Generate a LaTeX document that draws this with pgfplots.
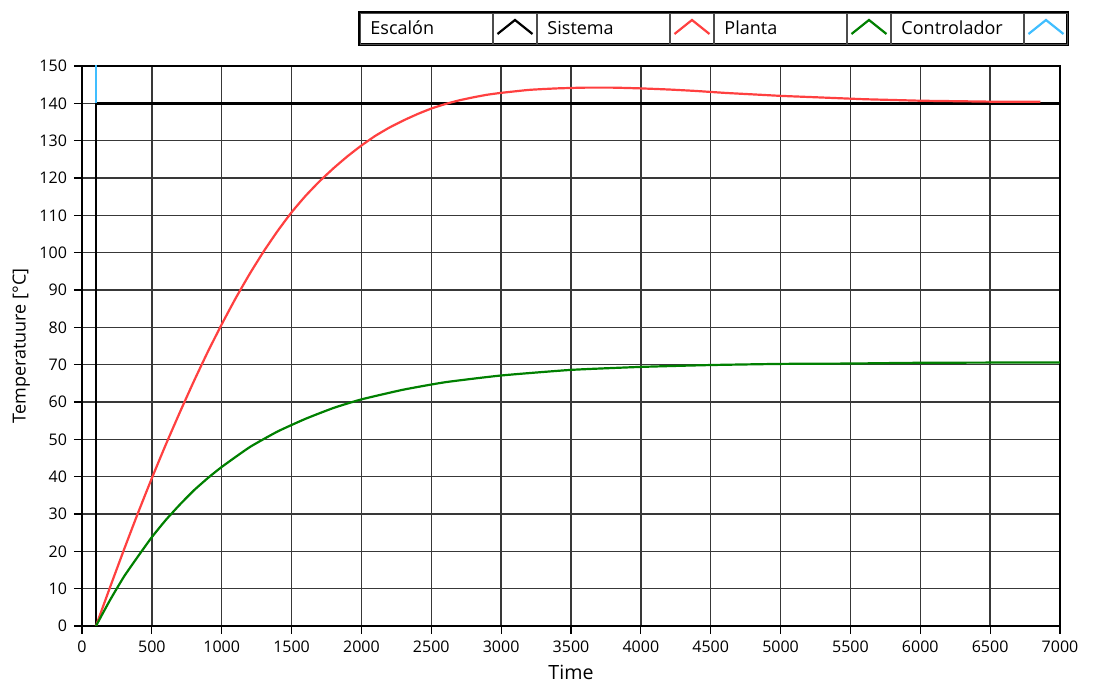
\documentclass[border=0pt]{standalone}
\usepackage{pgfplots}
\pgfplotsset{compat=1.18}
\usepackage{fontspec}
\setmainfont{Open Sans}
\definecolor{cred}{RGB}{255,64,64}
\definecolor{cgreen}{RGB}{0,128,0}
\definecolor{ccyan}{RGB}{64,190,255}
\begin{document}
\begin{tikzpicture}
\begin{axis}[
  at={(0,0)}, anchor=south west,
  scale only axis, width=489pt, height=280pt,
  xmin=0, xmax=7000, ymin=0, ymax=150,
  xtick={0,500,...,7000}, ytick={0,10,...,150},
  /pgf/number format/1000 sep={},
  /pgf/number format/assume math mode=true,
  ticklabel style={font=\fontsize{8}{9}\selectfont},
  grid=major, major grid style={black!78, line width=0.7pt},
  axis line style={black, line width=0.7pt},
  tick style={black, line width=0.6pt},
  tick align=outside, major tick length=4pt,
  xtick pos=bottom, ytick pos=left,
  xlabel={Time}, ylabel={Temperatuure [°C]},
  xlabel style={at={(axis description cs:0.5,-0.082)}, anchor=center, font=\fontsize{9.8}{11}\selectfont},
  ylabel style={at={(axis description cs:-0.062,0.5)}, anchor=center, font=\fontsize{9}{10}\selectfont},
  clip=true,
  legend columns=4,
  legend plot pos=right,
  legend cell align=left,
  legend style={at={(rel axis cs:1,1)}, anchor=north east, xshift=4pt, yshift=26.5pt,
    draw=black, line width=1.5pt, inner sep=0pt, outer sep=0pt,
    column sep=0pt, row sep=0pt,
    font=\fontsize{9}{10}\selectfont,
    nodes={draw=black!70, line width=0.5pt, minimum height=15.5pt, text width=56pt,
      inner xsep=5pt, inner ysep=0pt, anchor=west}},
  legend image code/.code={
    \draw[black!70, line width=0.5pt, solid] (0pt,-7.75pt) rectangle (21.5pt,7.75pt);
    \draw[#1, sharp plot, line width=1.1pt] (2pt,-2.5pt) -- (10.75pt,4.5pt) -- (19.5pt,-2.5pt);
  },
]
% Escalon
\addplot[black, line width=1.3pt] coordinates {(0,0) (100,0) (100,140) (7000,140)};
\addlegendentry{Escalón}
% Sistema
\addplot[cred, line width=1.1pt, smooth, tension=0.3] coordinates {
 (100,0) (200,10.3) (300,20.4) (400,30.2) (500,39.6) (600,48.6) (700,57.2)
 (800,65.5) (900,73.4) (1000,80.8) (1100,87.8) (1200,94.3) (1300,100.3)
 (1400,105.8) (1500,110.8) (1600,115.2) (1700,119.1) (1800,122.6) (1900,125.8)
 (2000,128.7) (2100,131.3) (2200,133.5) (2300,135.4) (2400,137.1) (2500,138.6)
 (2600,139.8) (2700,140.8) (2800,141.6) (2900,142.3) (3000,142.8) (3200,143.6)
 (3400,144.0) (3600,144.2) (3800,144.2) (4000,144.0) (4200,143.7) (4400,143.3)
 (4600,142.8) (4800,142.4) (5000,142.0) (5200,141.7) (5400,141.4) (5600,141.1)
 (5800,140.9) (6000,140.7) (6200,140.6) (6400,140.5) (6600,140.4) (6860,140.4)};
\addlegendentry{Sistema}
% Planta
\addplot[cgreen, line width=1.1pt, smooth, tension=0.3] coordinates {
 (100,0) (200,6.9) (300,13.2) (400,18.6) (500,23.8) (600,28.4) (700,32.5)
 (800,36.3) (900,39.6) (1000,42.6) (1200,47.9) (1400,52.1) (1600,55.5)
 (1800,58.4) (2000,60.7) (2300,63.3) (2600,65.3) (3000,67.1) (3500,68.6)
 (4000,69.4) (4500,69.9) (5000,70.2) (5500,70.3) (6000,70.5) (7000,70.6)};
\addlegendentry{Planta}
% Controlador
\addplot[ccyan, line width=1.1pt] coordinates {(100,140) (100,170)};
\addlegendentry{Controlador}
\end{axis}
\pgfresetboundingbox
\path (-41pt,-29pt) rectangle (505.5pt,313pt);
\end{tikzpicture}
\end{document}
